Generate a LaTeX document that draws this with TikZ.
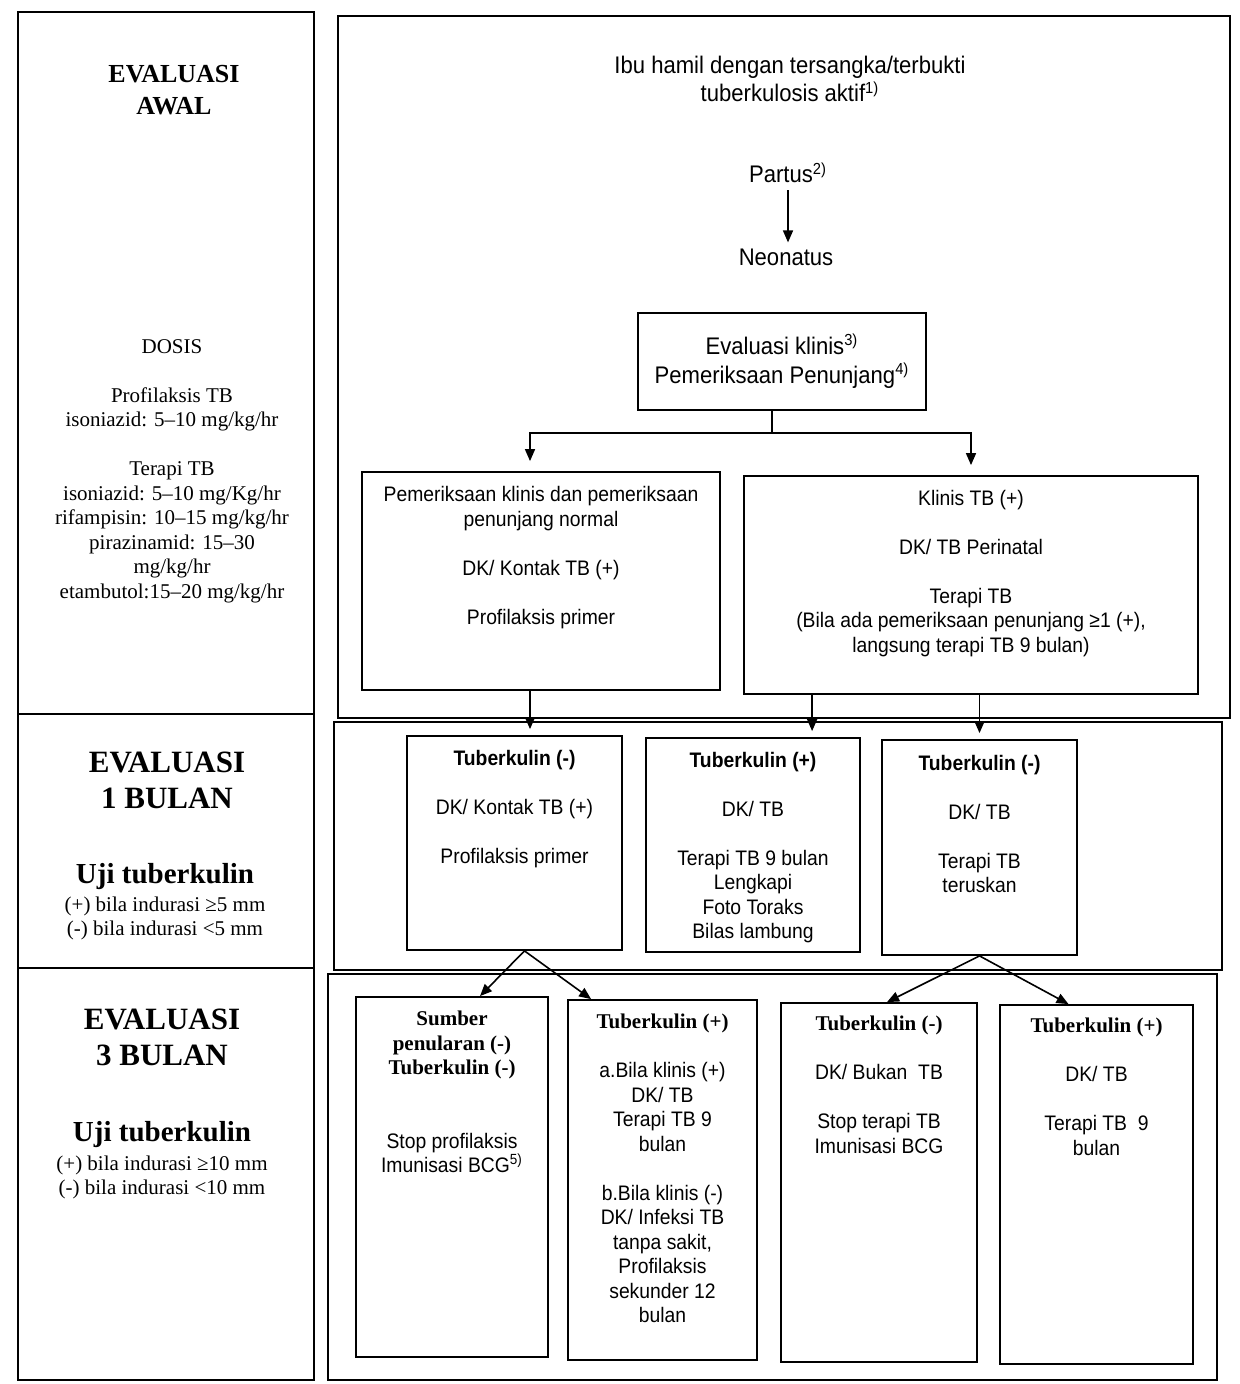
\documentclass[tikz,border=0pt]{standalone}
\usepackage{fontspec}
\setmainfont{Liberation Serif}
\newfontfamily\flowfont[FakeStretch=0.92]{Liberation Sans}
\usepackage{tikz}
\usetikzlibrary{arrows.meta, positioning, calc}
\newcommand{\serifhead}[1]{{\rmfamily\bfseries #1}}
\tikzset{
  panelframe/.style={draw, line width=0.9pt},
  flowbox/.style={draw, line width=0.9pt, inner sep=0pt},
  flowtext/.style={
    align=center, inner sep=0pt, anchor=north,
    font=\flowfont\fontsize{10.5}{12.25}\selectfont
  },
  flowhead/.style={
    align=center, font=\flowfont\fontsize{12}{14}\selectfont
  },
  flowarrow/.style={
    -{Triangle[length=6pt, width=5pt]}, line width=0.8pt
  },
  stagetitle/.style={
    align=center, inner sep=0pt, anchor=north,
    font=\bfseries\fontsize{15.5}{18}\selectfont
  },
  ujititle/.style={
    inner sep=0pt, anchor=north,
    font=\bfseries\fontsize{14.5}{17}\selectfont
  },
  stagetext/.style={
    align=center, inner sep=0pt,
    font=\fontsize{10.5}{12.25}\selectfont
  },
}

\begin{document}
\begin{tikzpicture}[x=0.5pt, y=-0.5pt]
  \useasboundingbox (0,0) rectangle (1239,1384);

  % left column: stages of evaluation
  \draw[panelframe] (18,12) rectangle (314,1380);
  \draw[panelframe] (18,714) -- (314,714);
  \draw[panelframe] (18,968) -- (314,968);

  \node[stagetitle, font=\bfseries\fontsize{13}{16}\selectfont] (awal) at (174,65) {EVALUASI\\AWAL};
  \node[stagetext, anchor=north] (dosis) at (172,339) {DOSIS\\[12.25pt]Profilaksis TB\\isoniazid: 5--10 mg/kg/hr\\[12.25pt]Terapi TB\\isoniazid: 5--10 mg/Kg/hr\\rifampisin: 10--15 mg/kg/hr\\pirazinamid: 15--30\\mg/kg/hr\\etambutol:15--20 mg/kg/hr};

  \node[stagetitle] (bulan1) at (167,752) {EVALUASI\\1 BULAN};
  \node[ujititle] (uji1) at (165,863) {Uji tuberkulin};
  \node[stagetext, below=3pt of uji1] (kriteria1) {(+) bila indurasi ≥5 mm\\(-) bila indurasi <5 mm};

  \node[stagetitle] (bulan3) at (162,1009) {EVALUASI\\3 BULAN};
  \node[ujititle] (uji3) at (162,1121) {Uji tuberkulin};
  \node[stagetext, below=3.5pt of uji3] (kriteria3) {(+) bila indurasi ≥10 mm\\(-) bila indurasi <10 mm};

  % right column: frames of the three rows
  \draw[panelframe] (338,16) rectangle (1230,718);
  \draw[panelframe] (334,722) rectangle (1222,970);
  \draw[panelframe] (328,974) rectangle (1217,1380);

  % initial evaluation
  \node[flowhead, anchor=north, inner sep=0pt] (ibu) at (790,56) {Ibu hamil dengan tersangka/terbukti\\tuberkulosis aktif\textsuperscript{1)}};
  \node[flowhead, anchor=base] (partus) at (788,183) {Partus\textsuperscript{2)}};
  \node[flowhead, anchor=base] (neonatus) at (786,266) {Neonatus};
  \node[flowbox, flowhead, font=\flowfont\fontsize{12}{14.5}\selectfont,
    minimum width=144pt, minimum height=48.5pt] (evalbox) at (782,361.5) {Evaluasi klinis\textsuperscript{3)}\\Pemeriksaan Penunjang\textsuperscript{4)}};

  \node[flowbox, minimum width=179pt, minimum height=109pt] (normbox) at (541,581) {};
  \node[flowtext, below=7.5pt of normbox.north] (normtext) {Pemeriksaan klinis dan pemeriksaan\\penunjang normal\\[12.25pt]DK/ Kontak TB (+)\\[12.25pt]Profilaksis primer};
  \node[flowbox, minimum width=227pt, minimum height=109pt] (klinbox) at (971,585) {};
  \node[flowtext, below=7.25pt of klinbox.north] (klintext) {Klinis TB (+)\\[12.25pt]DK/ TB Perinatal\\[12.25pt]Terapi TB\\(Bila ada pemeriksaan penunjang ≥1 (+),\\langsung terapi TB 9 bulan)};

  \draw[flowarrow] (partus.south) -- (partus.south |- neonatus.north);
  \draw[flowarrow, shorten >=5pt] ([xshift=-5pt]evalbox.south) -- ++(0,22) -| ([xshift=-5.5pt]normbox.north);
  \draw[flowarrow, shorten >=5pt] ([xshift=-5pt]evalbox.south) -- ++(0,22) -| (klinbox.north);

  % 1 month
  \node[flowbox, minimum width=107.5pt, minimum height=107pt] (kontak1) at (514.5,843) {};
  \node[flowtext, below=7.25pt of kontak1.north] (kontak1text) {\textbf{Tuberkulin (-)}\\[12.25pt]DK/ Kontak TB (+)\\[12.25pt]Profilaksis primer};
  \node[flowbox, minimum width=107pt, minimum height=107pt] (tbpos1) at (753,845) {};
  \node[flowtext, below=7.25pt of tbpos1.north] (tbpos1text) {\textbf{Tuberkulin (+)}\\[12.25pt]DK/ TB\\[12.25pt]Terapi TB 9 bulan\\Lengkapi\\Foto Toraks\\Bilas lambung};
  \node[flowbox, minimum width=97.5pt, minimum height=107.5pt] (tbneg1) at (979.5,847.5) {};
  \node[flowtext, below=7.75pt of tbneg1.north] (tbneg1text) {\textbf{Tuberkulin (-)}\\[12.25pt]DK/ TB\\[12.25pt]Terapi TB\\teruskan};

  \draw[flowarrow, shorten >=3pt] ([xshift=-5.5pt]normbox.south) -- ([xshift=-5.5pt]normbox.south |- kontak1.north);
  \draw[flowarrow, shorten >=3pt] ([xshift=34.5pt]klinbox.south west) -- ([xshift=34.5pt]klinbox.south west |- tbpos1.north);
  \draw[flowarrow, shorten >=3pt] (klinbox.south -| tbneg1) -- (tbneg1.north);

  % 3 months
  \node[flowbox, minimum width=96pt, minimum height=180pt] (sumber3) at (452,1177) {};
  \node[flowtext, below=7.25pt of sumber3.north] (sumber3text) {\serifhead{Sumber}\\\serifhead{penularan (-)}\\\serifhead{Tuberkulin (-)}\\[24.5pt]Stop profilaksis\\Imunisasi BCG\textsuperscript{5)}};
  \node[flowbox, minimum width=94.5pt, minimum height=180pt] (tbpos3a) at (662.5,1180) {};
  \node[flowtext, below=7.25pt of tbpos3a.north] (tbpos3atext) {\serifhead{Tuberkulin (+)}\\[12.25pt]a.Bila klinis (+)\\DK/ TB\\Terapi TB 9\\bulan\\[12.25pt]b.Bila klinis (-)\\DK/ Infeksi TB\\tanpa sakit,\\Profilaksis\\sekunder 12\\bulan};
  \node[flowbox, minimum width=98pt, minimum height=179.5pt] (tbneg3) at (879,1182.5) {};
  \node[flowtext, below=6.75pt of tbneg3.north] (tbneg3text) {\serifhead{Tuberkulin (-)}\\[12.25pt]DK/ Bukan~ TB\\[12.25pt]Stop terapi TB\\Imunisasi BCG};
  \node[flowbox, minimum width=96.5pt, minimum height=179.5pt] (tbpos3b) at (1096.5,1184.5) {};
  \node[flowtext, below=6.75pt of tbpos3b.north] (tbpos3btext) {\serifhead{Tuberkulin (+)}\\[12.25pt]DK/ TB\\[12.25pt]Terapi TB~ 9\\bulan};

  \coordinate (fork1) at ([xshift=5pt]kontak1.south);
  \coordinate (fork3) at (tbneg1.south);
  \draw[flowarrow] (fork1) -- ([xshift=14pt]sumber3.north);
  \draw[flowarrow] (fork1) -- ([xshift=12pt]tbpos3a.north west);
  \draw[flowarrow] (fork3) -- ([xshift=4pt]tbneg3.north);
  \draw[flowarrow] (fork3) -- ([xshift=-14pt]tbpos3b.north);
\end{tikzpicture}
\end{document}
